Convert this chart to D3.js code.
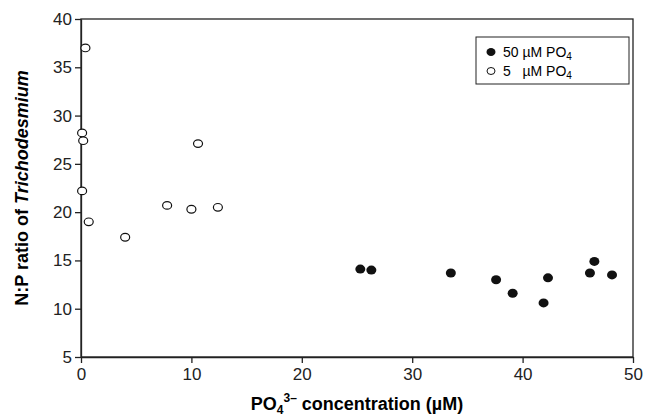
<!DOCTYPE html>
<html><head><meta charset="utf-8">
<script src="https://cdn.jsdelivr.net/npm/d3@7"></script>
<style>body{margin:0;background:#fff}text{font-family:Arial,"Liberation Sans",sans-serif;white-space:pre}</style>
</head><body><svg id="c" width="657" height="418"></svg>
<script>
// open circles: 5 uM PO4
var lowX = [0.4, 0.1, 0.2, 0.1, 0.7, 4, 7.8, 10, 10.6, 12.4];
var lowY = [37, 28.2, 27.4, 22.2, 19, 17.4, 20.7, 20.3, 27.1, 20.5];
// filled circles: 50 uM PO4
var highX = [25.3, 26.3, 33.5, 37.6, 39.1, 41.9, 42.3, 46.1, 46.5, 48.1];
var highY = [14.1, 14, 13.7, 13, 11.6, 10.6, 13.2, 13.7, 14.9, 13.5];
var xTicks = [0, 10, 20, 30, 40, 50];
var yTicks = [5, 10, 15, 20, 25, 30, 35, 40];

var svg = d3.select("#c");
var x = d3.scaleLinear().domain([0, 50]).range([81, 633]);
var y = d3.scaleLinear().domain([5, 40]).range([357, 19]);

svg.append("rect").attr("x", 81).attr("y", 19).attr("width", 552).attr("height", 338)
  .attr("fill", "none").attr("stroke", "#222").attr("stroke-width", 1.3);

var xa = svg.append("g").attr("transform", "translate(0,357)")
  .call(d3.axisBottom(x).tickValues(xTicks).tickSize(6).tickSizeOuter(0));
var ya = svg.append("g").attr("transform", "translate(81,0)")
  .call(d3.axisLeft(y).tickValues(yTicks).tickSize(6).tickSizeOuter(0));
[xa, ya].forEach(function (a) {
  a.select(".domain").attr("stroke", "#222").attr("stroke-width", 1.3);
  a.selectAll("line").attr("stroke", "#222").attr("stroke-width", 1.3);
  a.selectAll("text").attr("font-size", 17).attr("fill", "#222");
});
xa.selectAll("text").attr("dy", "0.85em");

svg.selectAll(".hi").data(highX).enter().append("ellipse")
  .attr("cx", function (d) { return x(d); })
  .attr("cy", function (d, i) { return y(highY[i]); })
  .attr("rx", 5).attr("ry", 4.5).attr("fill", "#111");
svg.selectAll(".lo").data(lowX).enter().append("ellipse")
  .attr("cx", function (d) { return x(d); })
  .attr("cy", function (d, i) { return y(lowY[i]); })
  .attr("rx", 4.5).attr("ry", 3.8).attr("fill", "#fff").attr("stroke", "#111").attr("stroke-width", 1.2);

// legend
var lg = svg.append("g");
lg.append("rect").attr("x", 476).attr("y", 37).attr("width", 153).attr("height", 47)
  .attr("fill", "#fff").attr("stroke", "#222");
lg.append("ellipse").attr("cx", 491).attr("cy", 52).attr("rx", 4.5).attr("ry", 4).attr("fill", "#111");
lg.append("ellipse").attr("cx", 491).attr("cy", 71).attr("rx", 4).attr("ry", 3.5).attr("fill", "#fff").attr("stroke", "#111");
var t1 = lg.append("text").attr("x", 503).attr("y", 57).attr("font-size", 14);
t1.append("tspan").text("50 µM PO");
t1.append("tspan").text("4").attr("font-size", 10).attr("dy", 3);
var t2 = lg.append("text").attr("x", 503).attr("y", 76).attr("font-size", 14);
t2.append("tspan").text("5   µM PO");
t2.append("tspan").text("4").attr("font-size", 10).attr("dy", 3);

// axis titles
var xt = svg.append("text").attr("x", 357).attr("y", 410).attr("text-anchor", "middle")
  .attr("font-size", 18).attr("font-weight", "bold");
xt.append("tspan").text("PO");
xt.append("tspan").text("4").attr("font-size", 12).attr("dy", 4);
xt.append("tspan").text("3–").attr("font-size", 12).attr("dy", -12);
xt.append("tspan").text(" concentration (µM)").attr("dy", 8);

var yt = svg.append("text").attr("transform", "translate(28,188) rotate(-90)")
  .attr("text-anchor", "middle").attr("font-size", 18).attr("font-weight", "bold");
yt.append("tspan").text("N:P ratio of ");
yt.append("tspan").text("Trichodesmium").attr("font-style", "italic");
</script></body></html>
